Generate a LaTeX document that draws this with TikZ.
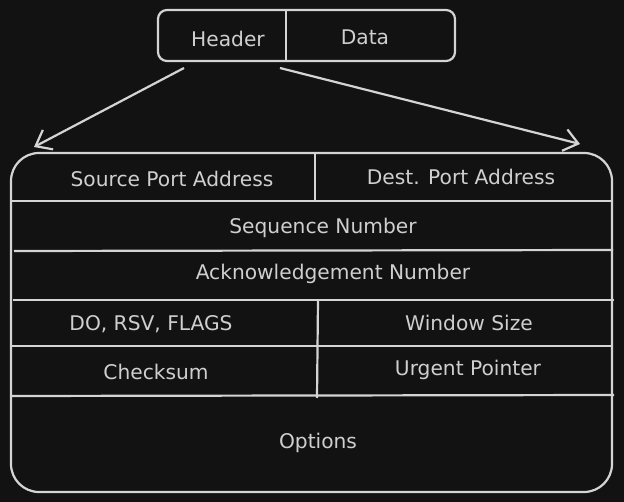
\documentclass[tikz,border=0pt]{standalone}
\usepackage{fontspec}
\setmainfont{DejaVu Sans}
\usetikzlibrary{arrows.meta}
\definecolor{bg}{HTML}{121212}
\definecolor{ln}{HTML}{D4D4D4}
\definecolor{tx}{HTML}{CFCFCF}
\begin{document}
\begin{tikzpicture}[x=1pt,y=-1pt,
  box/.style={draw=ln, line width=2.2pt, inner sep=0pt},
  rule/.style={draw=ln, line width=2.2pt},
  lbl/.style={text=tx, font=\fontsize{20.2}{23}\selectfont, inner sep=0pt, anchor=center},
  arr/.style={draw=ln, line width=2.2pt, -{Straight Barb[length=14pt,width=22pt,line width=2.2pt]}}]
\useasboundingbox[fill=bg] (0,0) rectangle (624,502);
% top packet
\node[box, rounded corners=9pt, minimum width=297pt, minimum height=51pt] (pkt) at (306.5,35.5) {};
\coordinate (pktdivT) at (286,10);
\coordinate (pktdivB) at (286,61);
\draw[rule] (pktdivT) -- (pktdivB);
\node[lbl] (hdr) at (228,38.5) {Header};
\node[lbl] (dat) at (365,37.5) {Data};
% arrows
\coordinate (a1s) at (184,68);
\coordinate (a1e) at (34,147);
\coordinate (a2s) at (280,68);
\coordinate (a2e) at (580,144);
\draw[arr] (a1s) -- (a1e);
\draw[arr] (a2s) -- (a2e);
% big table
\node[box, rounded corners=28pt, minimum width=601pt, minimum height=339pt] (tcp) at (311.5,322.5) {};
\coordinate (r1L) at (11,201); \coordinate (r1R) at (612,201);
\coordinate (r2L) at (14,251); \coordinate (r2R) at (613,250);
\coordinate (r3L) at (13,300); \coordinate (r3R) at (614,300);
\coordinate (r4L) at (10,346); \coordinate (r4R) at (611,346);
\coordinate (r5L) at (11,396); \coordinate (r5R) at (614,395);
\draw[rule] (r1L) -- (r1R);
\draw[rule] (r2L) -- (r2R);
\draw[rule] (r3L) -- (r3R);
\draw[rule] (r4L) -- (r4R);
\draw[rule] (r5L) -- (r5R);
\coordinate (v1T) at (315,153); \coordinate (v1B) at (315,201);
\coordinate (v2T) at (318,300); \coordinate (v2B) at (317,398);
\draw[rule] (v1T) -- (v1B);
\draw[rule] (v2T) -- (v2B);
% labels
\node[lbl] (sp) at (172,178.5) {Source Port Address};
\node[lbl] (dp) at (461,176.5) {Dest. Port Address};
\node[lbl] (sq) at (323,227.5) {Sequence Number};
\node[lbl] (ak) at (333,273.5) {Acknowledgement Number};
\node[lbl] (fl) at (151,324.5) {DO, RSV, FLAGS};
\node[lbl] (ws) at (469,322.5) {Window Size};
\node[lbl] (cs) at (156,371.5) {Checksum};
\node[lbl] (up) at (468,369.5) {Urgent Pointer};
\node[lbl] (op) at (318,442.5) {Options};
\end{tikzpicture}
\end{document}
